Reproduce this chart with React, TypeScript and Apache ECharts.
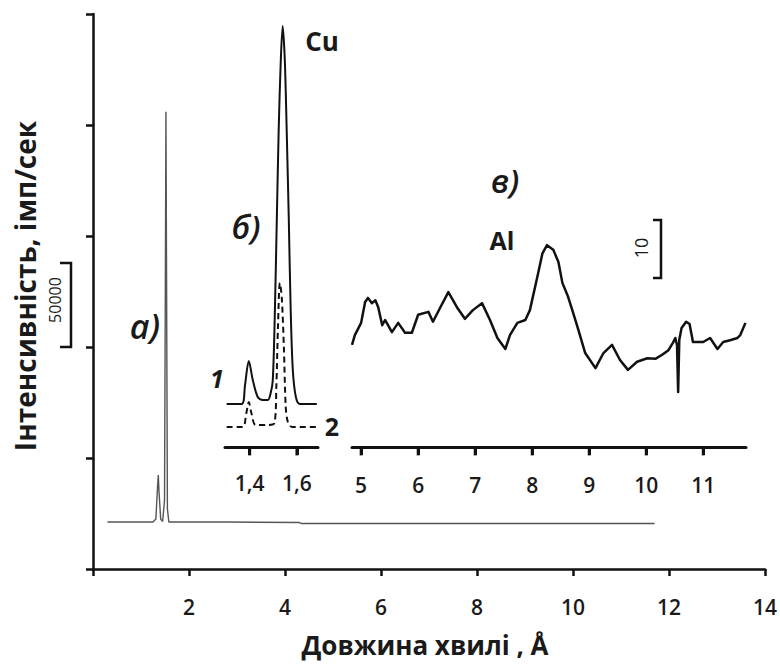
import React, { useEffect, useRef } from "react";
import * as echarts from "echarts";

// a) full spectrum (wavelength, Å ; intensity, imp/s)
const mainX = [0.3, 1.25, 1.31, 1.345, 1.36, 1.375, 1.41, 1.45, 1.49, 1.505, 1.52, 1.535, 1.55, 1.58, 2.8, 4.3, 4.35, 11.7];
const mainY = [27300, 27300, 29000, 48000, 54600, 45000, 29000, 27600, 40000, 150000, 265700, 150000, 35000, 27300, 27300, 27000, 26400, 26400];

// б) Cu region, curve 1 (solid) and curve 2 (dashed), arbitrary units
const cu1X = [1.302, 1.366, 1.38, 1.396, 1.413, 1.434, 1.455, 1.477, 1.49, 1.498, 1.506, 1.515, 1.523, 1.532, 1.54, 1.549, 1.557, 1.566, 1.574, 1.583, 1.596, 1.613, 1.685];
const cu1Y = [43, 43, 62, 86, 67, 50, 47, 47, 55, 67, 127, 227, 317, 387, 421, 387, 317, 227, 137, 77, 50, 43, 43];
const cu2X = [1.302, 1.37, 1.385, 1.396, 1.408, 1.425, 1.47, 1.505, 1.513, 1.52, 1.528, 1.536, 1.545, 1.553, 1.562, 1.58, 1.685];
const cu2Y = [20, 20, 33, 45, 33, 22, 22, 24, 60, 120, 164, 150, 100, 40, 25, 20, 20];

// в) Al region, counts (relative)
const alX = [4.84, 4.89, 5.0, 5.07, 5.12, 5.19, 5.25, 5.3, 5.37, 5.42, 5.54, 5.65, 5.77, 5.89, 6.0, 6.18, 6.26, 6.39, 6.53, 6.68, 6.82, 6.96, 7.12, 7.26, 7.39, 7.53, 7.61, 7.74, 7.88, 7.96, 8.09, 8.18, 8.26, 8.37, 8.46, 8.53, 8.63, 8.72, 8.81, 8.93, 9.11, 9.25, 9.4, 9.54, 9.68, 9.84, 10.02, 10.16, 10.28, 10.39, 10.47, 10.51, 10.54, 10.56, 10.58, 10.62, 10.7, 10.76, 10.82, 11.0, 11.12, 11.25, 11.35, 11.47, 11.6, 11.65, 11.74];
const alY = [17.6, 19.3, 21.4, 25.0, 25.7, 24.8, 25.3, 24.1, 21.0, 21.9, 19.8, 21.4, 19.7, 19.7, 22.8, 23.3, 21.6, 24.1, 26.7, 24.1, 22.1, 23.6, 24.8, 21.9, 18.8, 16.9, 19.3, 21.4, 21.9, 23.6, 29.3, 33.4, 34.8, 34.0, 31.9, 28.3, 25.9, 23.1, 20.2, 16.2, 13.6, 16.2, 17.6, 15.0, 13.3, 14.7, 15.3, 15.2, 15.9, 16.7, 18.0, 18.8, 17.6, 9.5, 18.5, 20.5, 21.6, 21.2, 18.1, 18.1, 18.8, 16.9, 18.1, 18.4, 18.8, 19.3, 21.4];

const cuTicks = [1.4, 1.6];
const alTicks = [5, 6, 7, 8, 9, 10, 11];

const FONT = "'Open Sans', 'Noto Sans', sans-serif";

const zip = (xs: number[], ys: number[]) => xs.map((x, i) => [x, ys[i]]);

export default function App() {
  const ref = useRef<HTMLDivElement>(null);
  useEffect(() => {
    document.body.style.margin = "0";
    const chart = echarts.init(ref.current!, null, { renderer: "svg" });
    const insetAxisLine = { show: true, lineStyle: { color: "#111", width: 3 } };
    const lbl = { color: "#1a1a1a", fontFamily: FONT, fontWeight: 600, fontSize: 21 };
    const insetTick = (vals: number[]) => ({ show: true, customValues: vals, length: 8, lineStyle: { color: "#111", width: 3 } });
    const tickSeries = (vals: number[], axis: number) => ({
      type: "scatter", xAxisIndex: axis, yAxisIndex: axis, clip: false, silent: true,
      data: vals.map((v) => [v, 0]),
      symbol: "rect", symbolSize: [3, 9], symbolOffset: [0, 4],
      itemStyle: { color: "#111" },
    });
    const txt = (x: number, y: number, text: string, font: string, rot = 0) => ({
      type: "text", x, y, rotation: rot,
      style: { text, font, fill: "#1a1a1a", align: "center", verticalAlign: "middle" },
    });
    chart.setOption({
      animation: false,
      grid: [
        { left: 93, top: 14, width: 674, height: 555 },
        { left: 225, top: 17, width: 93, height: 430 },
        { left: 352, top: 215, width: 394, height: 232 },
      ],
      xAxis: [
        {
          gridIndex: 0, type: "value", min: 0, max: 14, interval: 2,
          axisLine: { lineStyle: { color: "#111", width: 2.5 } },
          axisTick: { show: true, length: 7, lineStyle: { color: "#111", width: 2.5 } },
          splitLine: { show: false },
          axisLabel: { ...lbl, margin: 27, formatter: (v: number) => (v === 0 ? "" : String(v)) },
        },
        {
          gridIndex: 1, type: "value", min: 1.295, max: 1.69,
          axisLine: insetAxisLine,
          axisTick: insetTick(cuTicks),
          splitLine: { show: false },
          axisLabel: { ...lbl, margin: 25, customValues: cuTicks, formatter: (v: number) => String(v).replace(".", ",") },
        },
        {
          gridIndex: 2, type: "value", min: 4.84, max: 11.75,
          axisLine: insetAxisLine,
          axisTick: insetTick(alTicks),
          splitLine: { show: false },
          axisLabel: { ...lbl, margin: 27, customValues: alTicks },
        },
      ],
      yAxis: [
        {
          gridIndex: 0, type: "value", min: 0, max: 322500, interval: 64500,
          axisLine: { show: true, lineStyle: { color: "#111", width: 2.5 } },
          axisTick: { show: true, length: 7, lineStyle: { color: "#111", width: 2.5 } },
          axisLabel: { show: false },
          splitLine: { show: false },
        },
        { gridIndex: 1, type: "value", min: 0, max: 430, show: false },
        { gridIndex: 2, type: "value", min: 0, max: 40, show: false },
      ],
      series: [
        {
          type: "line", xAxisIndex: 0, yAxisIndex: 0, data: zip(mainX, mainY),
          showSymbol: false, lineStyle: { color: "#555", width: 1.4 },
        },
        {
          type: "line", xAxisIndex: 1, yAxisIndex: 1, data: zip(cu1X, cu1Y), smooth: 0.3,
          showSymbol: false, lineStyle: { color: "#111", width: 2 },
        },
        {
          type: "line", xAxisIndex: 1, yAxisIndex: 1, data: zip(cu2X, cu2Y), smooth: 0.3,
          showSymbol: false, lineStyle: { color: "#111", width: 2, type: [6, 4] },
        },
        {
          type: "line", xAxisIndex: 2, yAxisIndex: 2, data: zip(alX, alY),
          showSymbol: false, lineStyle: { color: "#111", width: 2.5, join: "round" },
        },
        tickSeries(cuTicks, 1),
        tickSeries(alTicks, 2),
      ],
      graphic: [
        txt(25, 286, "Інтенсивність, імп/сек", `bold 28px ${FONT}`, Math.PI / 2),
        txt(425, 645, "Довжина хвилі , Å", `bold 26px ${FONT}`),
        { type: "polyline", shape: { points: [[60, 263], [71, 263], [71, 347], [60, 347]] }, style: { stroke: "#111", lineWidth: 2.5, fill: null } },
        txt(55, 300, "50000", `16px ${FONT}`, Math.PI / 2),
        txt(145, 326, "а)", `italic 600 34px ${FONT}`),
        txt(246, 226, "б)", `italic 600 33px ${FONT}`),
        txt(505, 180, "в)", `italic 600 33px ${FONT}`),
        txt(322, 41, "Cu", `bold 26px ${FONT}`),
        txt(502, 240, "Al", `bold 25px ${FONT}`),
        txt(217, 378, "1", `italic bold 25px ${FONT}`),
        txt(332, 426, "2", `bold 25px ${FONT}`),
        { type: "polyline", shape: { points: [[653, 220], [661, 220], [661, 278], [653, 278]] }, style: { stroke: "#111", lineWidth: 2.5, fill: null } },
        txt(641, 248, "10", `18px ${FONT}`, Math.PI / 2),
      ],
    });
    return () => chart.dispose();
  }, []);
  return <div ref={ref} style={{ width: 780, height: 666, background: "#fff" }} />;
}
